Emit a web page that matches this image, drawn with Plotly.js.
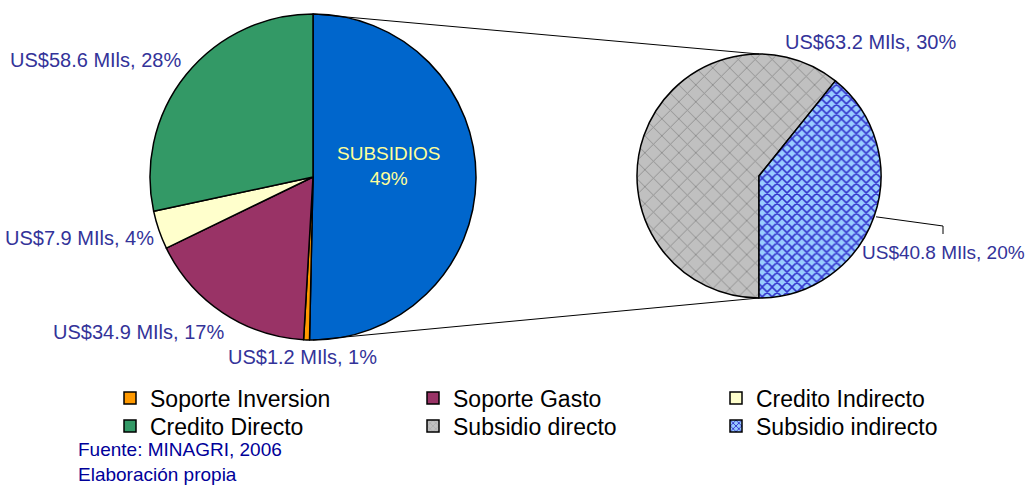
<!DOCTYPE html>
<html>
<head>
<meta charset="utf-8">
<script src="https://cdn.plot.ly/plotly-3.0.1.min.js"></script>
<style>
html,body{margin:0;padding:0;background:#fff;}
#chart{width:1030px;height:488px;}
</style>
</head>
<body>
<div id="chart"></div>
<script>
// ---- data ----
const subLabels = ['Subsidio directo', 'Subsidio indirecto'];
const subValues = [63.2, 40.8];
const subPct = [30, 20];

const mainLabels = ['SUBSIDIOS', 'Soporte Inversion', 'Soporte Gasto', 'Credito Indirecto', 'Credito Directo'];
const otherValues = [1.2, 34.9, 7.9, 58.6];
const mainPct = [49, 1, 17, 4, 28];

const legendRow1 = ['Soporte Inversion', 'Soporte Gasto', 'Credito Indirecto'];
const legendRow2 = ['Credito Directo', 'Subsidio directo', 'Subsidio indirecto'];
const sourceLines = ['Fuente: MINAGRI, 2006', 'Elaboración propia'];

// ---- styling ----
const W = 1030, H = 488;
const FONT = 'Liberation Sans, Arial, sans-serif';
const LABEL_COLOR = '#333399';
const colorMap = {
  'SUBSIDIOS': '#0066CC',
  'Soporte Inversion': '#FF9900',
  'Soporte Gasto': '#993366',
  'Credito Indirecto': '#FFFFCC',
  'Credito Directo': '#339966',
  'Subsidio directo': '#C0C0C0',
  'Subsidio indirecto': '#99CCFF'
};
const patternMap = {
  'Subsidio directo': {shape: 'x', fg: '#8a8a8a', size: 12, sol: 0.14},
  'Subsidio indirecto': {shape: 'x', fg: '#3333CC', size: 7, sol: 0.4}
};

const subTotal = subValues.reduce((a, b) => a + b, 0);
const mainValues = [subTotal].concat(otherValues);
const fmt = (v, p) => 'US$' + v.toFixed(1) + ' MIls, ' + p + '%';

// pie domains (pixels -> paper)
const px = v => v / W, py = v => (H - v) / H;
const mainDom = {x: [px(150), px(476)], y: [py(340), py(14)]};
const subDom = {x: [px(636), px(882)], y: [py(298), py(54)]};

const traces = [];
traces.push({
  type: 'pie',
  labels: mainLabels,
  values: mainValues,
  sort: false,
  direction: 'clockwise',
  rotation: 0,
  domain: mainDom,
  marker: {colors: mainLabels.map(l => colorMap[l]), line: {color: '#000', width: 1.5}},
  textinfo: 'none',
  hoverinfo: 'label+value',
  showlegend: false
});
traces.push({
  type: 'pie',
  labels: subLabels,
  values: subValues,
  sort: false,
  direction: 'clockwise',
  rotation: 180,
  domain: subDom,
  marker: {
    colors: subLabels.map(l => colorMap[l]),
    line: {color: '#000', width: 1.5},
    pattern: {
      shape: subLabels.map(l => patternMap[l].shape),
      fgcolor: subLabels.map(l => patternMap[l].fg),
      bgcolor: subLabels.map(l => colorMap[l]),
      size: subLabels.map(l => patternMap[l].size),
      solidity: subLabels.map(l => patternMap[l].sol)
    }
  },
  textinfo: 'none',
  hoverinfo: 'label+value',
  showlegend: false
});
// legend entries (two legends, one per row)
[[legendRow1, 'legend'], [legendRow2, 'legend2']].forEach(([names, lg]) => {
  names.forEach(n => {
    const p = patternMap[n];
    traces.push({
      type: 'bar', x: [null], y: [null], name: n, legend: lg,
      marker: {
        color: colorMap[n],
        line: {color: '#000', width: 1.5},
        pattern: p ? {shape: p.shape, fgcolor: p.fg, bgcolor: colorMap[n], size: 5, solidity: p.sol} : undefined
      },
      hoverinfo: 'skip', showlegend: true
    });
  });
});

// connector lines from main pie to secondary pie
const cxM = (mainDom.x[0] + mainDom.x[1]) / 2, cxS = (subDom.x[0] + subDom.x[1]) / 2;
const shapes = [
  {type: 'line', xref: 'paper', yref: 'paper', x0: cxM, y0: mainDom.y[1], x1: cxS, y1: subDom.y[1], line: {color: '#000', width: 1}},
  {type: 'line', xref: 'paper', yref: 'paper', x0: cxM, y0: mainDom.y[0], x1: cxS, y1: subDom.y[0], line: {color: '#000', width: 1}}
];
// leader line for the "Subsidio indirecto" label
const rS = (subDom.x[1] - subDom.x[0]) * W / 2;
const cyS = H - (subDom.y[0] + subDom.y[1]) / 2 * H;
const startB = (180 + 360 * subValues[0] / subTotal) * Math.PI / 180;
const midAng = startB + Math.PI * subValues[1] / subTotal; // clockwise from 12 o'clock
const ex = cxS * W + rS * Math.sin(midAng) + 1, ey = cyS - rS * Math.cos(midAng);
shapes.push({type: 'path', xref: 'paper', yref: 'paper',
  path: 'M' + px(ex) + ',' + py(ey) + ' L' + px(943) + ',' + py(226) + ' L' + px(943) + ',' + py(234),
  line: {color: '#000', width: 1}});

const lab = (x, y, xa, text, size, color) => ({xref: 'paper', yref: 'paper', x: px(x), y: py(y),
  xanchor: xa, yanchor: 'middle', showarrow: false, text: text,
  font: {family: FONT, size: size, color: color}});

const source = lab(76, 487, 'left', sourceLines.join('<br>'), 19, '#000099');
source.yanchor = 'bottom';
source.align = 'left';

const annotations = [
  lab(388, 166, 'center', mainLabels[0] + '<br>' + mainPct[0] + '%', 19, '#FFFF99'),
  lab(302, 357, 'center', fmt(mainValues[1], mainPct[1]), 20, LABEL_COLOR),
  lab(226, 332, 'right', fmt(mainValues[2], mainPct[2]), 20, LABEL_COLOR),
  lab(156, 238, 'right', fmt(mainValues[3], mainPct[3]), 20, LABEL_COLOR),
  lab(183, 60, 'right', fmt(mainValues[4], mainPct[4]), 20, LABEL_COLOR),
  lab(783, 42, 'left', fmt(subValues[0], subPct[0]), 20, LABEL_COLOR),
  lab(1027, 252, 'right', fmt(subValues[1], subPct[1]), 19, LABEL_COLOR),
  source
];

const legendBase = {
  orientation: 'h', x: px(110), xanchor: 'left', yanchor: 'middle',
  entrywidth: 258, entrywidthmode: 'pixels',
  font: {family: FONT, size: 23, color: '#000'},
  bgcolor: 'rgba(0,0,0,0)', traceorder: 'normal', itemclick: false
};

const layout = {
  width: W, height: H,
  margin: {l: 0, r: 0, t: 0, b: 0},
  paper_bgcolor: '#fff', plot_bgcolor: 'rgba(0,0,0,0)',
  font: {family: FONT},
  xaxis: {visible: false, domain: [0, 0.01]},
  yaxis: {visible: false, domain: [0, 0.01]},
  showlegend: true,
  legend: Object.assign({}, legendBase, {y: py(398)}),
  legend2: Object.assign({}, legendBase, {y: py(426)}),
  shapes: shapes,
  annotations: annotations
};

Plotly.newPlot('chart', traces, layout, {displayModeBar: false, staticPlot: true});
</script>
</body>
</html>
